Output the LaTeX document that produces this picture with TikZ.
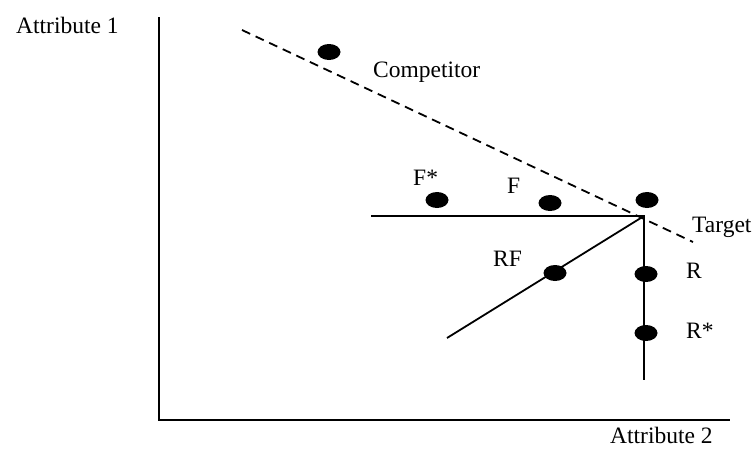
\documentclass[tikz,border=0pt]{standalone}
\usepackage{fontspec}
\setmainfont{Liberation Serif}
\usepackage{tikz}
\usetikzlibrary{positioning,shapes.geometric}
\tikzset{
  dot/.style={ellipse,fill=black,inner sep=0pt,minimum width=23pt,minimum height=16pt},
  lab/.style={anchor=base west,inner sep=0pt},
  axis/.style={line width=2.2pt},
  path/.style={line width=1.8pt},
  frontier/.style={line width=1.8pt,dash pattern=on 9pt off 6pt}
}

\begin{document}
\begin{tikzpicture}[x=1pt,y=-1pt,font=\fontsize{23.5}{28}\selectfont]
  \useasboundingbox (0,0) rectangle (752,450);
  % axes
  \coordinate (yTop) at (159,17);
  \coordinate (origin) at (159,420);
  \coordinate (xEnd) at (730,420);
  \draw[axis] (yTop) -- (origin) -- (xEnd);
  \node[lab] (attA) at (16,33) {Attribute 1};
  \node[lab] (attB) at (610,443) {Attribute 2};
  % competitor frontier
  \coordinate (dashA) at (242,30);
  \coordinate (dashB) at (693,242);
  \draw[frontier] (dashA) -- (dashB);
  % moves away from the target
  \coordinate (corner) at (644,216);
  \coordinate (fEnd) at (371,216);
  \coordinate (rEnd) at (644,380);
  \coordinate (rfEnd) at (447,338);
  \draw[path] (fEnd) -- (corner) -- (rEnd);
  \draw[path] (corner) -- (rfEnd);
  % positions
  \foreach \name/\px/\py in {comp/329/52, fstar/437/200, f/550/203, target/647/200, rf/555/273, r/646/274, rstar/646/333}
    \node[dot] (\name) at (\px,\py) {};
  \node[lab] (compLab) at (373,77) {Competitor};
  \node[lab] (fstarLab) at (413,185) {F*};
  \node[lab] (fLab) at (507,193) {F};
  \node[lab] (targetLab) at (692,232) {Target};
  \node[lab] (rfLab) at (493,266) {RF};
  \node[lab] (rLab) at (686,278) {R};
  \node[lab] (rstarLab) at (686,338) {R*};
\end{tikzpicture}
\end{document}
